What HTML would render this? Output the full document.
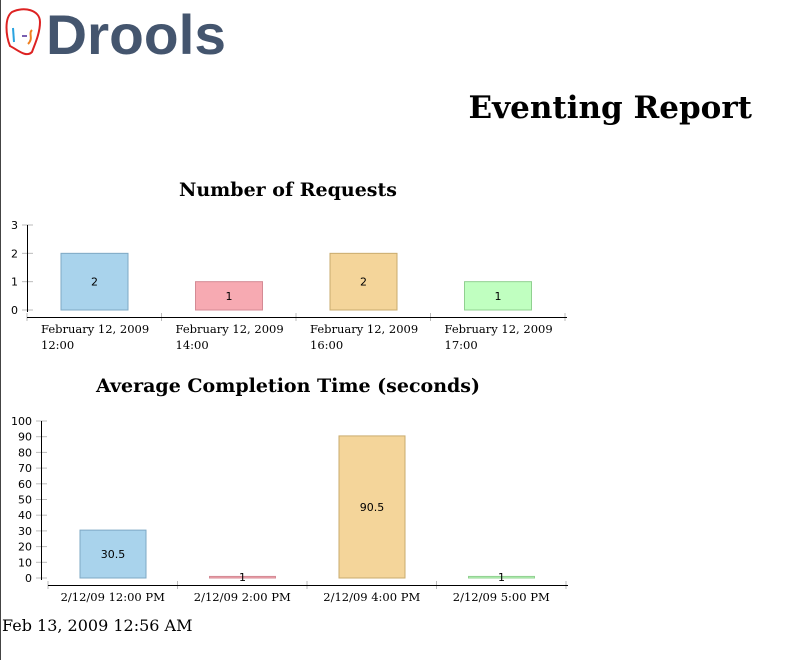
<!DOCTYPE html>
<html><head><meta charset="utf-8">
<style>
body{margin:0;width:792px;height:660px;overflow:hidden;background:#fff;position:relative;font-family:"DejaVu Serif","Liberation Serif",serif}
#border{position:absolute;left:0;top:0;width:1px;height:660px;background:#444}
#logo{position:absolute;left:2px;top:4px}
#title{position:absolute;right:40px;top:90px;font-size:31px;font-weight:bold;margin:0}
#footer{position:absolute;left:2px;top:616px;font-size:16px}
svg{position:absolute;left:0;top:0}
</style></head><body>
<div id="border"></div>
<svg id="logo" width="230" height="56" viewBox="0 0 230 56">
<path d="M10 8 C22 2 38 6 38 18 C38 30 32 42 30 48 C24 54 16 46 8 42 C4 32 2 14 10 8Z" fill="none" stroke="#d22" stroke-width="2"/>
<line x1="11" y1="24" x2="12" y2="38" stroke="#29a3e0" stroke-width="2"/>
<line x1="20" y1="32" x2="25" y2="32" stroke="#7a5fb0" stroke-width="2"/>
<path d="M30 26 C26 30 32 34 26 40" fill="none" stroke="#f08020" stroke-width="2"/>
<text x="44" y="50" font-family="Liberation Sans,sans-serif" font-weight="bold" font-size="56" fill="#44556e" textLength="180" lengthAdjust="spacingAndGlyphs">Drools</text>
</svg>
<h1 id="title">Eventing Report</h1>
<svg id="charts" width="792" height="660"></svg>
<div id="footer">Feb 13, 2009 12:56 AM</div>
<script>
const c1Cats=[["February 12, 2009","12:00"],["February 12, 2009","14:00"],["February 12, 2009","16:00"],["February 12, 2009","17:00"]];
const c1Vals=[2,1,2,1];
const c1Ticks=[0,1,2,3];
const c2Cats=[["2/12/09 12:00 PM"],["2/12/09 2:00 PM"],["2/12/09 4:00 PM"],["2/12/09 5:00 PM"]];
const c2Vals=[30.5,1,90.5,1];
const c2Ticks=[0,10,20,30,40,50,60,70,80,90,100];
const fills=["#a9d3ec","#f7aab2","#f4d59a","#c0ffc0"];
const strokes=["#7ea8c4","#d48a94","#c9ab6e","#90d090"];
const svg=document.getElementById('charts');
const NS="http://www.w3.org/2000/svg";
function mk(t,a,txt){const e=document.createElementNS(NS,t);for(const k in a)e.setAttribute(k,a[k]);if(txt!=null)e.textContent=txt;svg.appendChild(e);return e;}
function chart(o){
  const y=v=>o.y0-(v-0)/(o.max)*(o.y0-o.yTop);
  let t=mk('text',{x:o.tx,y:o.ty,'text-anchor':'middle','font-size':19,'font-weight':'bold','font-family':'DejaVu Serif,serif'},o.title);
  
  
  o.ticks.forEach(v=>{
    mk('line',{x1:o.ax-5,x2:o.ax+6,y1:y(v),y2:y(v),stroke:'#bbb'});
    const l=mk('text',{x:o.ax-9,y:y(v)+4,'text-anchor':'end','font-size':11,'font-family':'DejaVu Sans,sans-serif'},v);
    
    
  });
  let ax=mk('line',{x1:o.ax+0.5,y1:o.yTop,x2:o.ax+0.5,y2:o.y0+2,stroke:'#000'});
  
  
  const n=o.cats.length,w=(o.xe-o.xs)/n;
  for(let i=0;i<=n;i++)mk('line',{x1:o.xs+i*w,x2:o.xs+i*w,y1:o.xy-4,y2:o.xy+4,stroke:'#bbb'});
  let xa=mk('line',{x1:o.xs,y1:o.xy+0.5,x2:o.xe+2,y2:o.xy+0.5,stroke:'#000'});
  
  
  o.vals.forEach((v,i)=>{
    const bx=o.xs+i*w+o.off,top=y(v);
    const r=mk('rect',{x:bx,y:top,width:o.bw,height:Math.max(o.y0-top,1),fill:fills[i],stroke:strokes[i]});
    
    
    const l=mk('text',{x:bx+o.bw/2,y:(top+o.y0)/2+4,'text-anchor':'middle','font-size':11,'font-family':'DejaVu Sans,sans-serif'},v);
    
    
    o.cats[i].forEach((s,j)=>{
      const cl=mk('text',{x:o.lc?o.xs+i*w+w/2:o.xs+i*w+14,y:o.xy+16+j*16,'text-anchor':o.lc?'middle':'start','font-size':11.5,'font-family':'DejaVu Serif,serif'},s);
      
      
    });
  });
}
chart({name:'requests',title:'Number of Requests',tx:288,ty:196,ax:27,yTop:225,y0:310,max:3,ticks:c1Ticks,xs:27,xe:565,xy:317,off:34,bw:67,cats:c1Cats,vals:c1Vals,lc:false});
chart({name:'completion',title:'Average Completion Time (seconds)',tx:288,ty:392,ax:41,yTop:421,y0:578,max:100,ticks:c2Ticks,xs:48,xe:566,xy:585,off:32,bw:66,cats:c2Cats,vals:c2Vals,lc:true});
</script>
</body></html>
